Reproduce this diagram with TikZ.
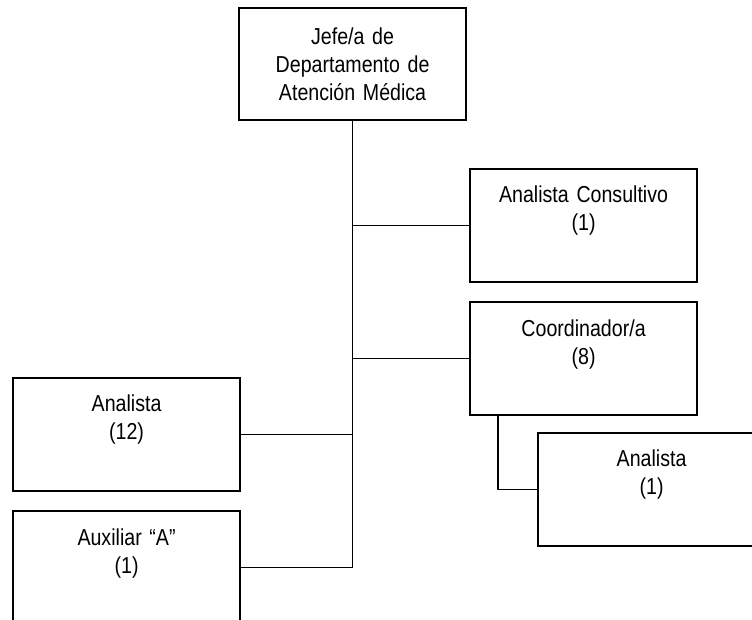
\documentclass[tikz,border=0pt]{standalone}
\usepackage{fontspec}
\setmainfont{Liberation Sans}[FakeStretch=0.85]
\usetikzlibrary{positioning, calc}
\newdimen\px
\px=0.75pt

\begin{document}
\begin{tikzpicture}[x=1\px, y=-1\px,
  puesto/.style={draw, line width=1.6pt, text width=227\px, inner sep=0pt,
    minimum height=113\px, align=center, anchor=north west,
    font=\fontsize{17.3pt}{21pt}\selectfont},
  linea/.style={line width=1.1pt}]
\useasboundingbox (0,0) rectangle (752,620);
\clip (0,0) rectangle (752,620);

\node[puesto, minimum height=112\px] (jefe) at (238,7) {Jefe/a de\\Departamento de\\Atención Médica\\[6\px]};
\node[puesto] (consultivo) at (469,168) {Analista Consultivo\\(1)\\[6\px]\mbox{}};
\node[puesto, below=18\px of consultivo] (coordinador) {Coordinador/a\\(8)\\[6\px]\mbox{}};
\node[puesto] (analista1) at (537,432) {Analista\\(1)\\[6\px]\mbox{}};
\node[puesto] (analista12) at (12,377) {Analista\\(12)\\[6\px]\mbox{}};
\node[puesto, below=18\px of analista12] (auxiliar) {Auxiliar “A”\\(1)\\[6\px]\mbox{}};

% draw wires
\draw[linea] (jefe.south) -- (jefe.south |- auxiliar.east) -- (auxiliar.east);
\draw[linea] (consultivo.west) -- (consultivo.west -| jefe.south);
\draw[linea] (coordinador.west) -- (coordinador.west -| jefe.south);
\draw[linea] (analista12.east) -- (analista12.east -| jefe.south);
\draw[linea] ([xshift=29\px]coordinador.south west) |- (analista1.west);
\end{tikzpicture}
\end{document}
